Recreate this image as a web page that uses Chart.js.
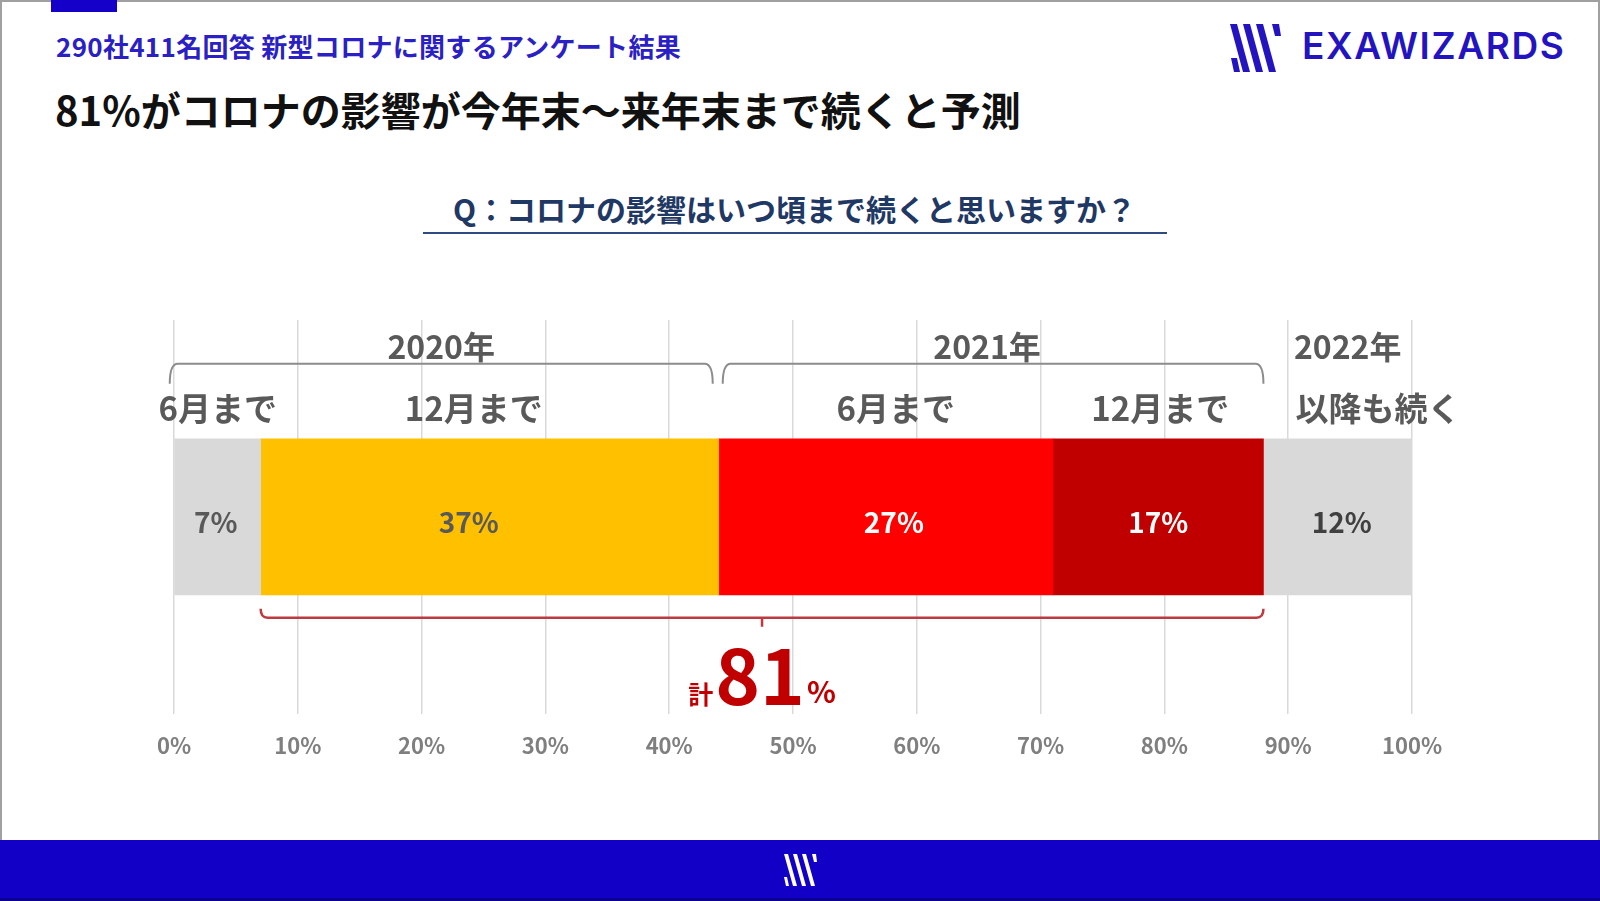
<!DOCTYPE html>
<html lang="ja">
<head>
<meta charset="utf-8">
<title>コロナの影響はいつ頃まで続くと思いますか</title>
<script src="https://cdn.jsdelivr.net/npm/chart.js@4.4.1/dist/chart.umd.min.js"></script>
<style>
    html, body { margin: 0; padding: 0; background: #fff; }
    body { width: 1600px; height: 901px; position: relative; overflow: hidden;
           font-family: "Noto Sans CJK JP", "Noto Sans", sans-serif; }
    .frame { position: absolute; left: 0; top: 0; width: 1596px; height: 899px;
             border: 2px solid #a0a0a0; border-bottom: none; }
    .tab { position: absolute; left: 51px; top: 0; width: 66px; height: 12px; background: #1400c8; }
    .sub { position: absolute; left: 56px; top: 27px; font-size: 26px; font-weight: 700;
           color: #2a20c4; letter-spacing: 0.3px; white-space: nowrap; }
    .title { position: absolute; left: 55px; top: 80px; font-size: 40px; font-weight: 700;
             color: #111; white-space: nowrap; }
    .q { position: absolute; left: 423px; width: 743px; top: 186px; text-align: center;
         font-size: 30px; font-weight: 700; color: #1f3864; white-space: nowrap; }
    .qline { position: absolute; left: 423px; top: 232px; width: 744px; height: 2px; background: #2f4a80; }
    .logo { position: absolute; left: 1228px; top: 22px; }
    .brand { position: absolute; left: 1302px; top: 21px; font-family: Inter, Lato, sans-serif;
             font-size: 37px; font-weight: 600; letter-spacing: 1.6px; color: #2414c0; line-height: 50px; }
    .foot { position: absolute; left: 0; top: 840px; width: 1600px; height: 61px; background: #1200c6;
            border-bottom: 3px solid #0c0090; box-sizing: border-box; }
    .footlogo { position: absolute; left: 781px; top: 852px; }
    #chart { position: absolute; left: 0; top: 0; }
</style>
</head>
<body>
<div class="frame"></div>
<div class="tab"></div>
<div class="sub">290社411名回答 新型コロナに関するアンケート結果</div>
<div class="title">81%がコロナの影響が今年末～来年末まで続くと予測</div>
<div class="q">Q：コロナの影響はいつ頃まで続くと思いますか？</div>
<div class="qline"></div>

<svg class="logo" width="56" height="52" viewBox="0 0 56 52">
    <g fill="#2414c0">
        <polygon points="3,36 9,36 12,50 6,50"/>
        <polygon points="2,2 9,2 22,50 15,50"/>
        <polygon points="15,2 22,2 35,50 28,50"/>
        <polygon points="28,2 35,2 48,50 41,50"/>
        <polygon points="44,2 51,2 53,14 47,14"/>
    </g>
</svg>
<div class="brand">EXAWIZARDS</div>

<div class="foot"></div>
<svg class="footlogo" width="40" height="36" viewBox="0 0 40 36">
    <g fill="#fff">
        <polygon points="3,25 6,25 8,34 5,34"/>
        <polygon points="3,2 7,2 16,34 12,34"/>
        <polygon points="12,2 16,2 25,34 21,34"/>
        <polygon points="21,2 25,2 34,34 30,34"/>
        <polygon points="31,2 35,2 36,10 33,10"/>
    </g>
</svg>

<canvas id="chart" width="1600" height="901"></canvas>

<script>
    // 回答の内訳（左から順に積み上げ）
    var categories = ['6月まで', '12月まで', '6月まで', '12月まで', '以降も続く'];
    var shares = [7, 37, 27, 17, 12];
    var barColors = ['#d9d9d9', '#ffc000', '#ff0000', '#c00000', '#d9d9d9'];
    var valueColors = ['#595959', '#595959', '#ffffff', '#ffffff', '#404040'];

    // 年の見出しと、それぞれがまたぐ区分（開始index, 終了index）
    var years = ['2020年', '2021年', '2022年'];
    var yearSpans = [[0, 1], [2, 3], [4, 4]];

    // 「計81%」の対象区分
    var totalSpan = [1, 3];
    var totalValue = 81;

    var tickValues = [0, 10, 20, 30, 40, 50, 60, 70, 80, 90, 100];

    var FONT = '"Noto Sans CJK JP", "Noto Sans", sans-serif';

    var annotate = {
        id: 'annotate',
        afterDatasetsDraw: function (chart) {
            var ctx = chart.ctx;
            var bars = chart.data.datasets.map(function (ds, i) {
                return chart.getDatasetMeta(i).data[0].getProps(['x', 'y', 'base', 'height'], true);
            });
            var top = bars[0].y - bars[0].height / 2;
            var bottom = bars[0].y + bars[0].height / 2;
            var left = function (i) { return Math.min(bars[i].x, bars[i].base); };
            var right = function (i) { return Math.max(bars[i].x, bars[i].base); };

            ctx.save();
            ctx.textBaseline = 'middle';
            ctx.textAlign = 'center';

            // 値ラベル
            ctx.font = '700 28px ' + FONT;
            var valueShift = [-2, -21, 8, 0, 4];
            bars.forEach(function (b, i) {
                ctx.fillStyle = valueColors[i];
                ctx.fillText(shares[i] + '%', (left(i) + right(i)) / 2 + valueShift[i], b.y + 6);
            });

            // 区分ラベル
            ctx.font = '700 33px ' + FONT;
            ctx.fillStyle = '#595959';
            var shift = [0, -16, 10, 2, 0];
            categories.forEach(function (c, i) {
                if (i === categories.length - 1) {
                    ctx.textAlign = 'left';
                    ctx.fillText(c, left(i) + 32, top - 30);
                    ctx.textAlign = 'center';
                } else {
                    ctx.fillText(c, (left(i) + right(i)) / 2 + shift[i], top - 30);
                }
            });

            // 年ラベルと括弧
            ctx.font = '700 32px ' + FONT;
            var yearShift = [0, -6, 10];
            years.forEach(function (y, i) {
                var x0 = left(yearSpans[i][0]);
                var x1 = right(yearSpans[i][1]);
                if (i === 0) { x0 -= 5; x1 -= 6; } else if (i === 1) { x0 += 4; }
                ctx.fillStyle = '#595959';
                ctx.fillText(y, (x0 + x1) / 2 + yearShift[i], top - 92);
                if (yearSpans[i][0] === yearSpans[i][1]) { return; }
                var by = top - 75;
                ctx.strokeStyle = '#8c8c8c';
                ctx.lineWidth = 2;
                ctx.beginPath();
                ctx.moveTo(x0, by + 20);
                ctx.quadraticCurveTo(x0, by, x0 + 8, by);
                ctx.lineTo(x1 - 8, by);
                ctx.quadraticCurveTo(x1, by, x1, by + 20);
                ctx.stroke();
            });

            // 合計の括弧
            var r0 = left(totalSpan[0]);
            var r1 = right(totalSpan[1]);
            var ry = bottom + 23;
            var rc = (r0 + r1) / 2;
            ctx.strokeStyle = '#bf3a40';
            ctx.lineWidth = 2.5;
            ctx.beginPath();
            ctx.moveTo(r0, ry - 9);
            ctx.quadraticCurveTo(r0, ry, r0 + 7, ry);
            ctx.lineTo(r1 - 7, ry);
            ctx.quadraticCurveTo(r1, ry, r1, ry - 9);
            ctx.moveTo(rc, ry);
            ctx.lineTo(rc, ry + 9);
            ctx.stroke();

            // 計81%
            var base = bottom + 109;
            ctx.textBaseline = 'alphabetic';
            ctx.textAlign = 'left';
            ctx.fillStyle = '#c00000';
            var fSmall = '700 25px ' + FONT;
            var fBig = '700 76px ' + FONT;
            var fPct = '700 30px ' + FONT;
            ctx.font = fSmall; var w1 = ctx.measureText('計').width;
            ctx.font = fBig; var w2 = ctx.measureText(String(totalValue)).width;
            ctx.font = fPct; var w3 = ctx.measureText('%').width;
            var sx = rc - (w1 + w2 + w3 + 4) / 2;
            ctx.font = fSmall; ctx.fillText('計', sx, base);
            ctx.font = fBig; ctx.fillText(String(totalValue), sx + w1 + 2, base + 1);
            ctx.font = fPct; ctx.fillText('%', sx + w1 + w2 + 4, base - 1);

            ctx.restore();
        }
    };

    new Chart(document.getElementById('chart'), {
        type: 'bar',
        data: {
            labels: ['回答'],
            datasets: categories.map(function (c, i) {
                return {
                    label: c,
                    data: [shares[i]],
                    backgroundColor: barColors[i],
                    borderWidth: 0,
                    barThickness: 156
                };
            })
        },
        options: {
            indexAxis: 'y',
            responsive: false,
            animation: false,
            layout: { padding: { left: 174, right: 188, top: 320, bottom: 123 } },
            plugins: { legend: { display: false }, tooltip: { enabled: false } },
            scales: {
                x: {
                    stacked: true,
                    min: 0,
                    max: 100,
                    afterBuildTicks: function (axis) {
                        axis.ticks = tickValues.map(function (v) { return { value: v }; });
                    },
                    grid: { color: '#d9d9d9', lineWidth: 1.5, drawTicks: false },
                    border: { display: false },
                    ticks: {
                        padding: 19,
                        color: '#7f7f7f',
                        font: { family: FONT, size: 22, weight: '700' },
                        callback: function (v) { return v + '%'; }
                    }
                },
                y: { stacked: true, display: false }
            }
        },
        plugins: [annotate]
    });
</script>
</body>
</html>
